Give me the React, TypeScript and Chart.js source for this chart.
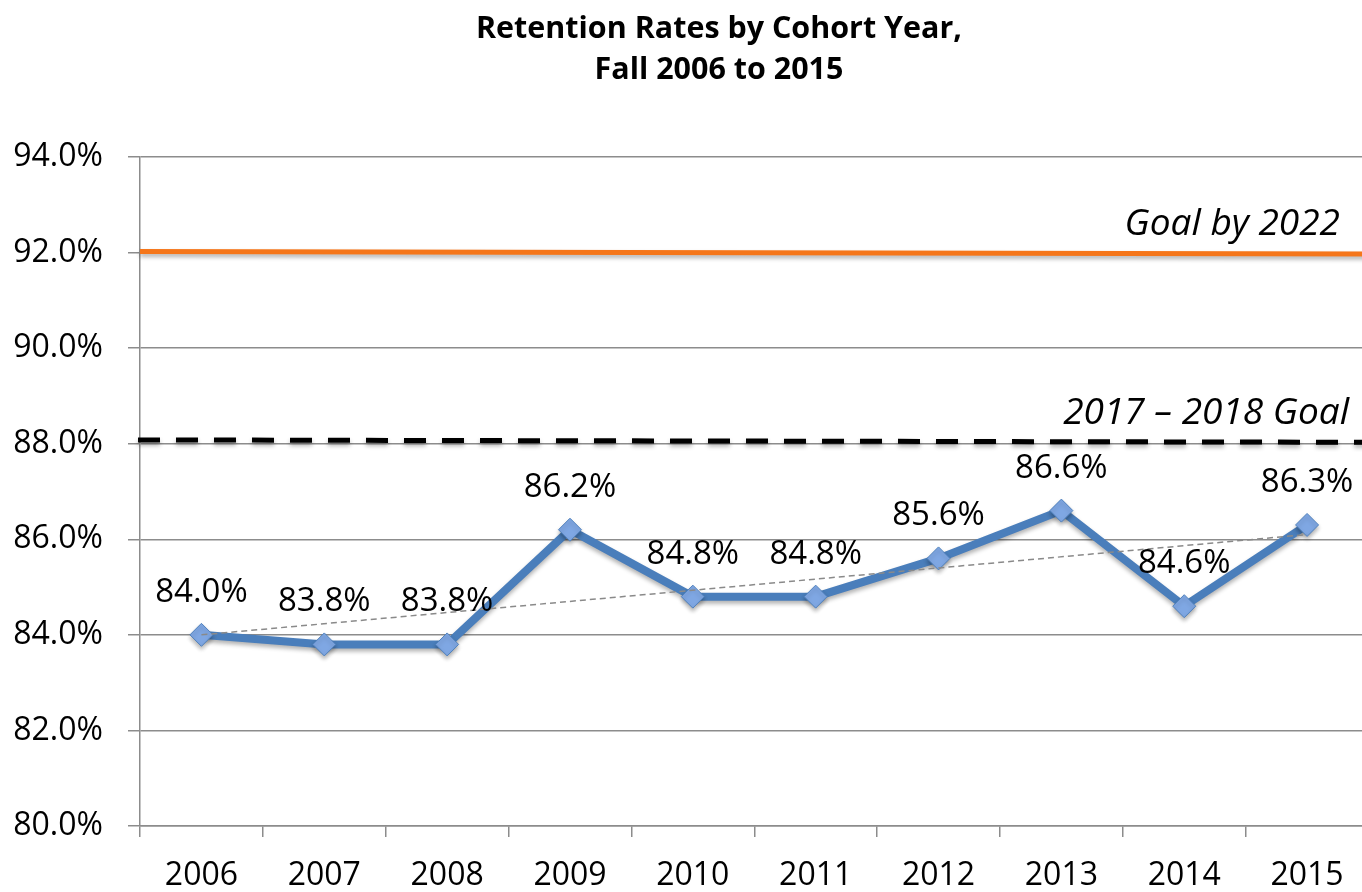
import React, { useEffect, useRef } from 'react';
import { Chart, registerables } from 'chart.js';

Chart.register(...registerables);

const years = ['2006', '2007', '2008', '2009', '2010', '2011', '2012', '2013', '2014', '2015'];
const retention = [84.0, 83.8, 83.8, 86.2, 84.8, 84.8, 85.6, 86.6, 84.6, 86.3];
const trendEnds = [84.0, null, null, null, null, null, null, null, null, 86.1];
const goal2022 = [92.02, 91.97];
const goal1718 = [88.08, 88.03];
const goalLabels = ['Goal by 2022', '2017 \u2013 2018 Goal'];
const titleLines = ['Retention Rates by Cohort Year,', 'Fall 2006 to 2015'];
const yMin = 80;
const yMax = 94;
const yStep = 2;

const FONT = '"Open Sans", sans-serif';

const overlayPlugin = {
  id: 'overlay',
  beforeDatasetsDraw(chart: any) {
    const { ctx, chartArea, scales } = chart;
    const y = scales.y;
    ctx.save();
    ctx.shadowColor = 'rgba(0,0,0,0.3)';
    ctx.shadowBlur = 4;
    ctx.shadowOffsetY = 3;
    ctx.lineCap = 'butt';
    // Goal by 2022
    ctx.strokeStyle = '#F5761A';
    ctx.lineWidth = 5;
    ctx.beginPath();
    ctx.moveTo(chartArea.left, y.getPixelForValue(goal2022[0]));
    ctx.lineTo(chartArea.right, y.getPixelForValue(goal2022[1]));
    ctx.stroke();
    // 2017-2018 Goal
    ctx.strokeStyle = '#000000';
    ctx.lineWidth = 5;
    ctx.setLineDash([22, 16]);
    ctx.beginPath();
    ctx.moveTo(chartArea.left - 2, y.getPixelForValue(goal1718[0]));
    ctx.lineTo(chartArea.right, y.getPixelForValue(goal1718[1]));
    ctx.stroke();
    ctx.restore();

    ctx.save();
    ctx.fillStyle = '#000';
    ctx.font = `italic 37px ${FONT}`;
    ctx.textAlign = 'right';
    ctx.textBaseline = 'alphabetic';
    ctx.fillText(goalLabels[0], 1340, y.getPixelForValue(goal2022[0]) - 17);
    ctx.fillText(goalLabels[1], 1349, y.getPixelForValue(goal1718[0]) - 16);
    ctx.restore();
  },
  beforeDatasetDraw(chart: any, args: any) {
    if (args.index === 1) {
      const ctx = chart.ctx;
      ctx.save();
      ctx.shadowColor = 'rgba(0,0,0,0.3)';
      ctx.shadowBlur = 4;
      ctx.shadowOffsetY = 3;
    }
  },
  afterDatasetDraw(chart: any, args: any) {
    if (args.index === 1) {
      chart.ctx.restore();
    }
  },
  afterDatasetsDraw(chart: any) {
    const { ctx } = chart;
    const meta = chart.getDatasetMeta(1);
    ctx.save();
    ctx.fillStyle = '#000';
    ctx.font = `33px ${FONT}`;
    ctx.textAlign = 'center';
    ctx.textBaseline = 'alphabetic';
    meta.data.forEach((pt: any, i: number) => {
      ctx.fillText(retention[i].toFixed(1) + '%', pt.x, pt.y - 33);
    });
    ctx.restore();

    // title
    ctx.save();
    ctx.fillStyle = '#000';
    ctx.font = `bold 31px ${FONT}`;
    ctx.textAlign = 'center';
    ctx.textBaseline = 'alphabetic';
    const targetW = 486;
    const w0 = ctx.measureText(titleLines[0]).width;
    const sx = targetW / w0;
    ctx.translate(719, 0);
    ctx.scale(sx, 1);
    ctx.fillText(titleLines[0], 0, 38);
    ctx.fillText(titleLines[1], 0, 79);
    ctx.restore();
  },
};

export default function App() {
  const canvasRef = useRef<HTMLCanvasElement | null>(null);

  useEffect(() => {
    const canvas = canvasRef.current;
    if (!canvas) return;
    const chart = new Chart(canvas, {
      type: 'line',
      data: {
        labels: years,
        datasets: [
          {
            label: 'Trend',
            data: trendEnds as any,
            spanGaps: true,
            borderColor: '#8a8a8a',
            borderWidth: 1.5,
            borderDash: [6, 4],
            pointRadius: 0,
            pointHoverRadius: 0,
            fill: false,
          },
          {
            label: 'Retention',
            data: retention,
            borderColor: '#4A7EBB',
            borderWidth: 8,
            pointStyle: 'rectRot',
            pointRadius: 11.5,
            pointBackgroundColor: '#7FA7E3',
            pointBorderColor: '#4F81BD',
            pointBorderWidth: 1,
            tension: 0,
            fill: false,
          },
        ],
      },
      options: {
        responsive: false,
        animation: false,
        devicePixelRatio: 1,
        layout: { padding: { top: 157, right: 2, bottom: 0, left: 0 } },
        plugins: {
          legend: { display: false },
          title: { display: false },
          tooltip: { enabled: false },
        },
        scales: {
          x: {
            type: 'category',
            offset: true,
            grid: {
              offset: true,
              drawOnChartArea: false,
              drawTicks: true,
              tickLength: 11,
              color: '#8c8c8c',
              lineWidth: 1.5,
            },
            border: { display: true, color: '#8c8c8c', width: 1.5 },
            ticks: {
              color: '#000',
              font: { family: FONT, size: 32 },
              padding: 20,
              maxRotation: 0,
              autoSkip: false,
            },
            afterFit(scale: any) {
              scale.height = 66;
            },
          },
          y: {
            min: yMin,
            max: yMax,
            grid: {
              color: '#8c8c8c',
              lineWidth: 1.5,
              drawTicks: true,
              tickLength: 12,
            },
            border: { display: true, color: '#8c8c8c', width: 1.5 },
            ticks: {
              stepSize: yStep,
              color: '#000',
              font: { family: FONT, size: 32 },
              padding: 25,
              callback: (v: any) => Number(v).toFixed(1) + '%',
            },
            afterFit(scale: any) {
              scale.width = 140;
            },
          },
        },
      },
      plugins: [overlayPlugin],
    });
    return () => chart.destroy();
  }, []);

  return (
    <div
      style={{
        position: 'absolute',
        left: 0,
        top: 0,
        width: 1362,
        height: 892,
        overflow: 'hidden',
        background: '#fff',
      }}
    >
      <canvas ref={canvasRef} width={1381} height={892} style={{ display: 'block' }} />
    </div>
  );
}
